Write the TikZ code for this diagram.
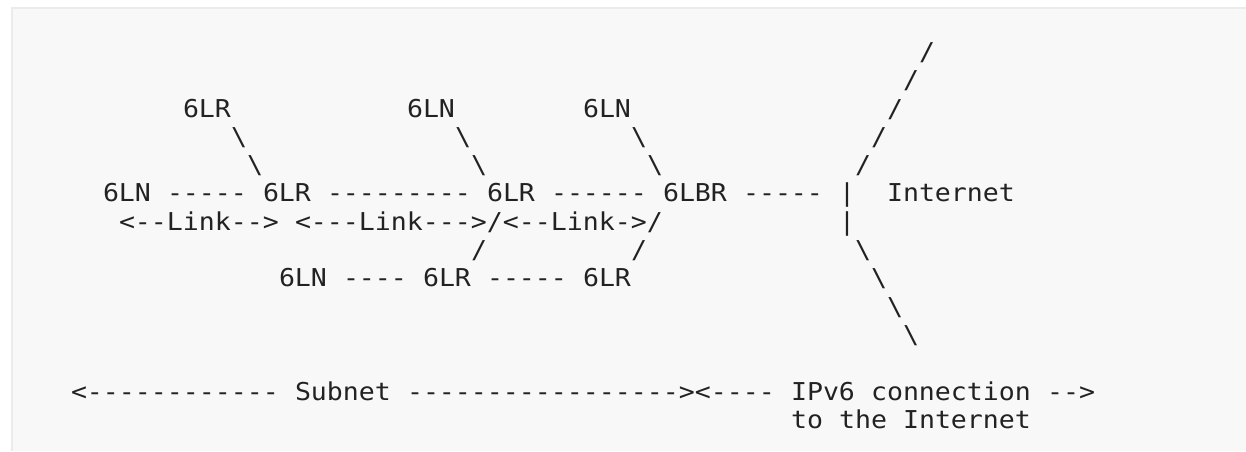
\documentclass[tikz,border=0pt]{standalone}
\usepackage{fontspec}
\setmonofont{DejaVu Sans Mono}[FakeStretch=1.08]
\definecolor{bgc}{HTML}{F8F8F8}
\definecolor{brd}{HTML}{EBEBEB}
\definecolor{ink}{HTML}{222222}
\tikzset{
  txt/.style={anchor=base west, inner sep=0pt, outer sep=0pt, text=ink,
              font=\ttfamily\fontsize{24.6}{28}\selectfont}
}
% token at column #2 of text line #3
\newcommand\tk[4]{\node[txt] (#1) at ({7+16*#2},{-(60.4+28.3*(#3-1))}) {#4};}
\newcommand\bs{\textbackslash}
\begin{document}
\begin{tikzpicture}[x=1pt,y=1pt]
\useasboundingbox (0,0) rectangle (1246,-451);
\fill[white] (0,0) rectangle (1246,-451);
\fill[bgc] (12.2,-8.2) rectangle (1246,-451);
\draw[brd, line width=2pt] (12.2,-451) -- (12.2,-8.2) -- (1246,-8.2);
% line 1-2
\tk{i1}{57}{1}{/}
\tk{i2}{56}{2}{/}
% line 3
\tk{lrA}{11}{3}{6LR}
\tk{lnB}{25}{3}{6LN}
\tk{lnC}{36}{3}{6LN}
\tk{i3}{55}{3}{/}
% line 4
\tk{a4}{14}{4}{\bs}
\tk{b4}{28}{4}{\bs}
\tk{c4}{39}{4}{\bs}
\tk{i4}{54}{4}{/}
% line 5
\tk{a5}{15}{5}{\bs}
\tk{b5}{29}{5}{\bs}
\tk{c5}{40}{5}{\bs}
\tk{i5}{53}{5}{/}
% line 6
\tk{ln1}{6}{6}{6LN}
\tk{d1}{10}{6}{-----}
\tk{lr1}{16}{6}{6LR}
\tk{d2}{20}{6}{---------}
\tk{lr2}{30}{6}{6LR}
\tk{d3}{34}{6}{------}
\tk{lbr}{41}{6}{6LBR}
\tk{d4}{46}{6}{-----}
\tk{bar1}{52}{6}{|}
\tk{inet}{55}{6}{Internet}
% line 7
\tk{link1}{7}{7}{<--Link-->}
\tk{link2}{18}{7}{<---Link--->/<--Link->/}
\tk{bar2}{52}{7}{|}
% line 8
\tk{s8a}{29}{8}{/}
\tk{s8b}{39}{8}{/}
\tk{i8}{53}{8}{\bs}
% line 9
\tk{ln2}{17}{9}{6LN}
\tk{d5}{21}{9}{----}
\tk{lr3}{26}{9}{6LR}
\tk{d6}{30}{9}{-----}
\tk{lr4}{36}{9}{6LR}
\tk{i9}{54}{9}{\bs}
% line 10-11
\tk{i10}{55}{10}{\bs}
\tk{i11}{56}{11}{\bs}
% line 13
\tk{sa}{4}{13}{<------------}
\tk{sub}{18}{13}{Subnet}
\tk{sb}{25}{13}{-----------------><----}
\tk{ipv}{49}{13}{IPv6}
\tk{con}{54}{13}{connection}
\tk{arr}{65}{13}{-->}
% line 14
\tk{to}{49}{14}{to}
\tk{the}{52}{14}{the}
\tk{int2}{56}{14}{Internet}
\end{tikzpicture}
\end{document}
